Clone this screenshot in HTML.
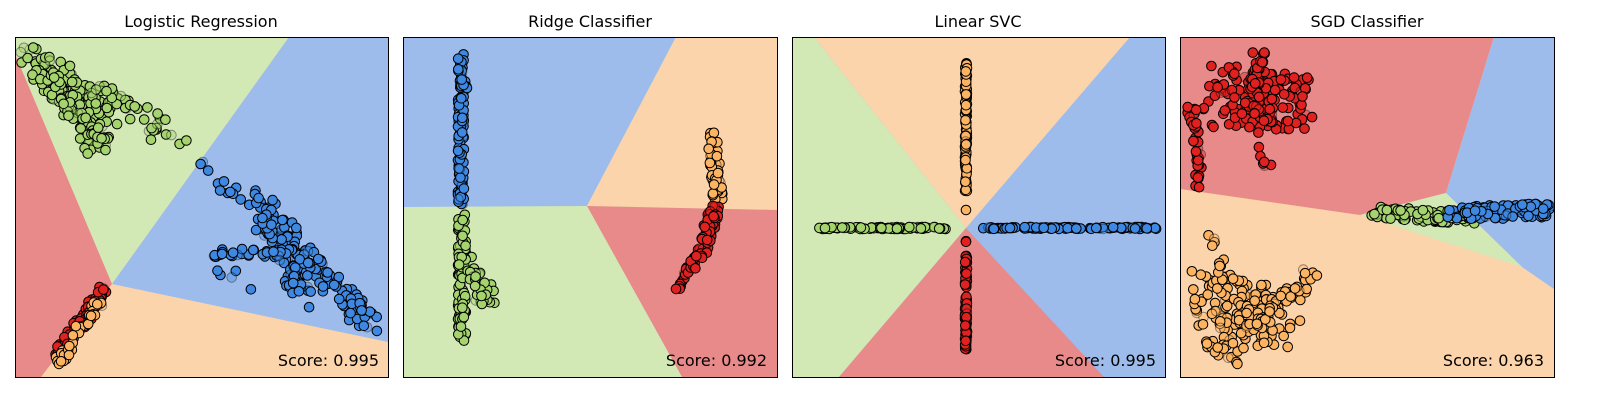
<!DOCTYPE html>
<html><head><meta charset="utf-8"><style>
body{margin:0;background:#fff;width:1600px;height:400px;overflow:hidden}
svg{display:block}
text{font-family:"DejaVu Sans","Liberation Sans",sans-serif}
</style></head><body>
<svg id="s" width="1600" height="400" xmlns="http://www.w3.org/2000/svg">
<defs>
<clipPath id="c1"><rect x="15" y="37" width="373" height="340"/></clipPath>
<clipPath id="c2"><rect x="403" y="37" width="374" height="340"/></clipPath>
<clipPath id="c3"><rect x="792" y="37" width="373" height="340"/></clipPath>
<clipPath id="c4"><rect x="1180" y="37" width="374" height="340"/></clipPath>
</defs>
<g clip-path="url(#c1)">
<rect x="15" y="37" width="373" height="340" fill="#fbd4ab"/>
<polygon points="15,37 289,37 112,284 15,54" fill="#d2e8b5"/>
<polygon points="289,37 388,37 388,342 112,284" fill="#9dbcec"/>
<polygon points="15,54 112,284 41,377 15,377" fill="#e88a8a"/>
<g id="p1"></g>
</g>
<g clip-path="url(#c2)">
<rect x="403" y="37" width="374" height="340" fill="#d2e8b5"/>
<polygon points="403,37 676,37 587,206 403,207" fill="#9dbcec"/>
<polygon points="676,37 777,37 777,210 587,206" fill="#fbd4ab"/>
<polygon points="587,206 777,210 777,377 682,377" fill="#e88a8a"/>
<g id="p2"></g>
</g>
<g clip-path="url(#c3)">
<rect x="792" y="37" width="373" height="340" fill="#9dbcec"/>
<polygon points="792,37 814,37 966,228 839,377 792,377" fill="#d2e8b5"/>
<polygon points="814,37 1130,37 966,228" fill="#fbd4ab"/>
<polygon points="966,228 1104,377 839,377" fill="#e88a8a"/>
<g id="p3"></g>
</g>
<g clip-path="url(#c4)">
<rect x="1180" y="37" width="374" height="340" fill="#fbd4ab"/>
<polygon points="1180,37 1494,37 1446,193 1360,215 1180,189" fill="#e88a8a"/>
<polygon points="1494,37 1554,37 1554,289 1522,267 1446,193" fill="#9dbcec"/>
<polygon points="1360,215 1446,193 1522,267" fill="#d2e8b5"/>
<g id="p4"></g>
</g>
<g fill="none" stroke="#000" stroke-width="1">
<rect x="15.5" y="37.5" width="373" height="340"/>
<rect x="403.5" y="37.5" width="374" height="340"/>
<rect x="792.5" y="37.5" width="373" height="340"/>
<rect x="1180.5" y="37.5" width="374" height="340"/>
</g>
<g font-size="16" text-anchor="middle" fill="#000">
<text x="201" y="27">Logistic Regression</text>
<text x="590" y="27">Ridge Classifier</text>
<text x="978" y="27">Linear SVC</text>
<text x="1367" y="27">SGD Classifier</text>
</g>
<g font-size="16" text-anchor="end" fill="#000">
<text x="379" y="366">Score: 0.995</text>
<text x="767" y="366">Score: 0.992</text>
<text x="1156" y="366">Score: 0.995</text>
<text x="1544" y="366">Score: 0.963</text>
</g>
</svg>
<script>
var seed=7;function r(){seed=(seed*16807)%2147483647;return (seed-1)/2147483646;}
var C={g:"#a5d46e",b:"#3f88e2",r:"#e0211f",o:"#fdb462"};
var NS="http://www.w3.org/2000/svg";
function seg(id,col,x1,y1,x2,y2,n,jx,jy){var g=document.getElementById(id);
for(var i=0;i<n;i++){var t=r();var x=x1+(x2-x1)*t+(r()-0.5)*2*jx,y=y1+(y2-y1)*t+(r()-0.5)*2*jy;
var c=document.createElementNS(NS,"circle");c.setAttribute("cx",x.toFixed(1));c.setAttribute("cy",y.toFixed(1));c.setAttribute("r","4.8");
c.setAttribute("fill",C[col]);c.setAttribute("stroke","#000");c.setAttribute("stroke-width","1");if(r()<0.08)c.setAttribute("opacity","0.4");g.appendChild(c);}}
seg("p1","g",28,55,75,110,80,10,14);seg("p1","g",55,70,110,110,70,14,18);seg("p1","g",65,100,100,150,40,10,8);seg("p1","g",110,100,165,130,30,10,12);seg("p1","g",150,140,186,140,4,5,5);seg("p1","g",90,125,115,145,15,8,8);
seg("p1","b",204,162,240,200,12,8,8);seg("p1","b",255,205,300,260,80,12,16);seg("p1","b",300,250,370,325,80,12,10);seg("p1","b",210,253,290,253,35,5,4);seg("p1","b",280,260,310,300,25,10,10);seg("p1","b",220,270,260,285,5,10,8);
seg("p1","r",58,355,105,290,80,5,5);seg("p1","o",58,362,100,300,35,5,5);
seg("p2","b",461,55,461,205,110,3,3);seg("p2","b",461,80,470,100,8,3,3);
seg("p2","g",462,215,462,340,90,4,3);seg("p2","g",462,260,490,300,40,8,10);
seg("p2","o",712,135,718,200,60,5,3);seg("p2","r",715,205,700,260,60,6,3);seg("p2","r",700,255,676,290,25,4,3);
seg("p3","o",966,64,966,195,110,1,1);seg("p3","o",966,210,966,210,1,0,0);
seg("p3","g",820,228,948,228,90,4,1);seg("p3","b",985,228,1155,228,110,4,1);
seg("p3","r",966,252,966,350,90,1,1);seg("p3","r",966,240,966,243,2,0,0);
seg("p4","r",1215,95,1300,105,150,22,30);seg("p4","r",1255,55,1265,130,50,10,12);seg("p4","r",1192,110,1200,185,35,5,10);seg("p4","r",1245,140,1275,170,6,6,6);
seg("p4","o",1200,300,1290,320,150,18,30);seg("p4","o",1250,330,1312,275,40,8,8);seg("p4","o",1210,240,1225,275,10,5,8);seg("p4","o",1210,340,1240,358,20,10,8);
seg("p4","g",1375,213,1470,218,90,10,6);seg("p4","b",1455,213,1553,210,110,12,7);
</script>
</body></html>
